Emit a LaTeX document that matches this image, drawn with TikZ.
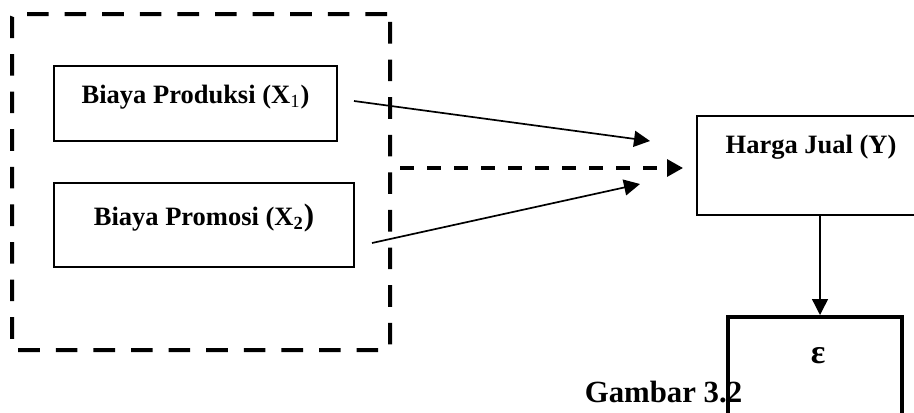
\documentclass[tikz,border=0pt]{standalone}
\usepackage{fontspec}
\setmainfont{Liberation Serif}
\usetikzlibrary{arrows.meta}
\tikzset{
	kotak/.style={draw, line width=1pt, inner sep=0pt},
	grup/.style={draw, line width=2pt, rounded corners=1.5pt, dash pattern=on 10.8pt off 8pt,
		minimum width=189pt, minimum height=168pt, inner sep=0pt},
	teks/.style={anchor=base, inner sep=0pt, font=\bfseries\fontsize{13.25}{15}\selectfont},
	panah/.style={-{Triangle[length=8pt, width=8pt]}, line width=0.85pt},
}

\begin{document}
\begin{tikzpicture}[x=0.5pt, y=-0.5pt]
			%%%%% START %%%%%
			
			\useasboundingbox (0, 0) rectangle (914, 412);
			\clip (0, 0) rectangle (914, 412);
			
			\node[grup] (grup) at (201, 182) {};
			
			\node[kotak, minimum width=141.5pt, minimum height=37.5pt] (x1) at (195.5, 103.5) {};
			\node[teks] (x1t) at (195.5, 103.5) {Biaya Produksi (X\textsubscript{\mdseries 1})};
			
			\node[kotak, minimum width=150pt, minimum height=42pt] (x2) at (204, 225) {};
			\node[teks] (x2t) at (204, 225) {Biaya Promosi (X\textsubscript{2}{\fontsize{15.5}{15}\selectfont )}};
			
			\node[kotak, minimum width=114pt, minimum height=49.5pt] (harga) at (811, 165.5) {};
			\node[teks] (hargat) at (811, 153) {Harga Jual (Y)};
			
			\node[teks, font=\bfseries\fontsize{15.4}{17}\selectfont] (gambar) at (663.5, 402) {Gambar 3.2};
			
			\node[kotak, line width=2.25pt, minimum width=87pt, minimum height=71pt] (eror) at (815, 388) {};
			\node[teks, font=\bfseries\fontsize{17}{19}\selectfont] (erort) at (818, 363) {ε};
			
			\coordinate (a1) at (354, 101);
			\coordinate (b1) at (650, 141);
			\coordinate (a2) at (372, 243);
			\coordinate (b2) at (640, 184);
			\coordinate (a3) at (400, 168);
			\coordinate (b3) at (683, 168);
			\coordinate (a4) at (820, 215);
			\coordinate (b4) at (820, 315);
			
			\draw[panah] (a1) -- (b1);
			\draw[panah] (a2) -- (b2);
			\draw[panah, line width=1.6pt, dash pattern=on 7pt off 6.5pt, -{Triangle[length=8pt, width=8.5pt]}] (a3) -- (b3);
			\draw[panah, line width=0.7pt] (a4) -- (b4);
			
			%%%%% END %%%%%
\end{tikzpicture}
\end{document}
